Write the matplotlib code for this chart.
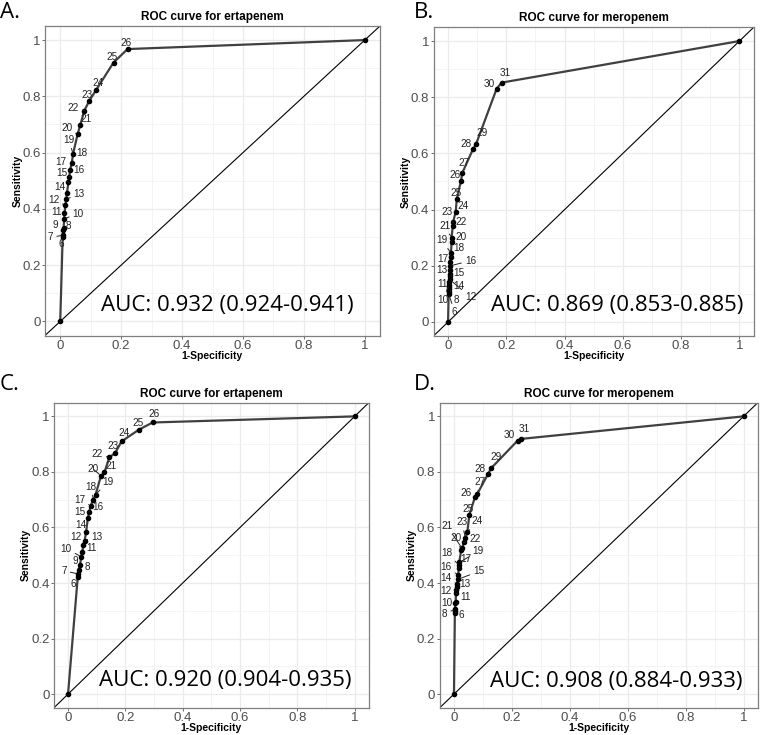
import numpy as np
import matplotlib.pyplot as plt
from matplotlib.ticker import MultipleLocator, FixedLocator

plt.rcParams.update({'font.family': ['Liberation Sans', 'DejaVu Sans'], 'font.size': 9})

# ---- data (1-specificity, sensitivity, cutoff label)
fpr_a = [0, 0.008, 0.008, 0.010, 0.011, 0.013, 0.014, 0.017, 0.020, 0.022, 0.027, 0.030,
         0.032, 0.038, 0.042, 0.057, 0.066, 0.079, 0.096, 0.118, 0.175, 0.221, 1]
tpr_a = [0, 0.299, 0.306, 0.324, 0.331, 0.365, 0.385, 0.413, 0.435, 0.456, 0.494, 0.515,
         0.537, 0.563, 0.595, 0.665, 0.699, 0.749, 0.785, 0.823, 0.920, 0.968, 1]
lab_a = ['', '6', '7', '8', '9', '10', '11', '12', '13', '14', '15', '16', '17', '18', '19',
         '20', '21', '22', '23', '24', '25', '26', '']

fpr_b = [0, 0.002, 0.002, 0.003, 0.003, 0.003, 0.004, 0.005, 0.005, 0.006, 0.007, 0.008,
         0.008, 0.009, 0.010, 0.012, 0.012, 0.016, 0.017, 0.026, 0.030, 0.044, 0.049, 0.085,
         0.096, 0.167, 0.184, 1]
tpr_b = [0, 0.100, 0.108, 0.118, 0.125, 0.132, 0.142, 0.152, 0.162, 0.172, 0.185, 0.200,
         0.215, 0.230, 0.245, 0.285, 0.300, 0.340, 0.355, 0.391, 0.437, 0.501, 0.531, 0.614,
         0.633, 0.831, 0.852, 1]
lab_b = ['', '6', '', '8', '', '10', '11', '12', '13', '14', '15', '16', '17', '18', '19',
         '20', '21', '22', '23', '24', '25', '26', '27', '28', '29', '30', '31', '']

fpr_c = [0, 0.034, 0.035, 0.037, 0.042, 0.046, 0.050, 0.053, 0.058, 0.063, 0.069, 0.074,
         0.079, 0.088, 0.096, 0.115, 0.127, 0.144, 0.164, 0.187, 0.247, 0.295, 1]
tpr_c = [0, 0.423, 0.433, 0.447, 0.465, 0.495, 0.510, 0.537, 0.553, 0.583, 0.633, 0.657,
         0.679, 0.700, 0.718, 0.786, 0.798, 0.852, 0.868, 0.910, 0.952, 0.978, 1]
lab_c = lab_a

fpr_d = [0, 0.003, 0.003, 0.003, 0.005, 0.006, 0.007, 0.008, 0.009, 0.011, 0.013, 0.015,
         0.016, 0.017, 0.018, 0.025, 0.028, 0.034, 0.039, 0.046, 0.053, 0.072, 0.080, 0.118,
         0.128, 0.220, 0.233, 1]
tpr_d = [0, 0.291, 0.299, 0.306, 0.327, 0.333, 0.363, 0.375, 0.387, 0.397, 0.413, 0.429,
         0.453, 0.465, 0.474, 0.519, 0.525, 0.546, 0.561, 0.582, 0.645, 0.708, 0.720, 0.793,
         0.813, 0.913, 0.919, 1]
lab_d = lab_b

titles = ['ROC curve for ertapenem', 'ROC curve for meropenem',
          'ROC curve for ertapenem', 'ROC curve for meropenem']
aucs = ['AUC: 0.932 (0.924-0.941)', 'AUC: 0.869 (0.853-0.885)',
        'AUC: 0.920 (0.904-0.935)', 'AUC: 0.908 (0.884-0.933)']
letters = ['A.', 'B.', 'C.', 'D.']

# ---- layout (pixels): label nudges (like ggrepel), axes boxes, etc.
off_a = [(-1, -7), (-12, -2), (5, 4), (-8, 3), (14, 5), (-8, 1), (-12, 5), (13, 5), (-7, 6),
         (-7, 9), (10, 7), (-9, 8), (10, 10), (-4, 14), (-11, 6), (6, 6), (-11, 3), (-2, 6),
         (2, 7), (-1, 6), (-1, 6)]
off_b = [(6, -18), (7, -11), (-6, -15), (-7, -2), (21, -18), (-8, 6), (9, -12), (9, -3),
         (20, 5), (-8, 3), (8, 9), (-9, 13), (9, 5), (-7, 12), (8, 4), (-6, 10), (7, 6),
         (-1, 6), (-6, 6), (2, 10), (-7, 5), (6, 11), (-7, 5), (4, 10)]
off_c = [(-4, -7), (-14, 3), (9, 3), (-5, 4), (-15, 8), (9, 4), (-7, 8), (12, 4), (-5, 7),
         (-8, 6), (9, 5), (-11, 6), (-2, 13), (12, 13), (-8, 7), (7, 6), (-12, 3), (-2, 7),
         (2, 8), (-1, 7), (1, 8)]
off_d = [(6, -2), (-10, -5), (-9, -1), (10, -4), (-10, -1), (8, 3), (-11, 6), (21, 8),
         (-12, 8), (7, 9), (-12, 12), (19, 11), (-5, 12), (-15, 22), (11, 3), (-3, 16),
         (10, 11), (-1, 6), (-9, 4), (3, 12), (-8, 5), (5, 11), (-8, 6), (3, 10)]

W, H = 760, 735
boxes = [(45, 26, 380, 335.5), (433.5, 27, 754, 336),
         (53.7, 402.5, 369, 708), (439.5, 402.5, 758, 708)]
auc_xy = [(0.962, 0.057), (1.015, 0.060), (0.990, 0.050), (0.997, 0.044)]
letter_xy = [(0, 12), (414, 13), (0, 385), (414, 385)]

panels = [(fpr_a, tpr_a, lab_a, off_a), (fpr_b, tpr_b, lab_b, off_b),
          (fpr_c, tpr_c, lab_c, off_c), (fpr_d, tpr_d, lab_d, off_d)]

fig = plt.figure(figsize=(W / 100, H / 100), dpi=100)

for k, (fpr, tpr, lab, off) in enumerate(panels):
    l, t, r, b = boxes[k]
    ax = fig.add_axes([l / W, 1 - b / H, (r - l) / W, (b - t) / H])
    ax.set_xlim(-0.05, 1.05)
    ax.set_ylim(-0.05, 1.05)

    ax.xaxis.set_major_locator(FixedLocator([0, 0.2, 0.4, 0.6, 0.8, 1]))
    ax.yaxis.set_major_locator(FixedLocator([0, 0.2, 0.4, 0.6, 0.8, 1]))
    ax.set_xticklabels(['0', '0.2', '0.4', '0.6', '0.8', '1'])
    ax.set_yticklabels(['0', '0.2', '0.4', '0.6', '0.8', '1'])
    ax.xaxis.set_minor_locator(MultipleLocator(0.1))
    ax.yaxis.set_minor_locator(MultipleLocator(0.1))
    ax.grid(which='major', color='#EBEBEB', lw=0.9)
    ax.grid(which='minor', color='#F2F2F2', lw=0.6)
    ax.set_axisbelow(True)
    ax.tick_params(which='major', length=2, width=0.6, color='#555555', pad=1,
                   labelsize=9.5, labelcolor='#4D4D4D')
    ax.tick_params(which='minor', length=0)
    for s in ax.spines.values():
        s.set_color('#7F7F7F')
        s.set_linewidth(0.9)

    ax.axline((0, 0), slope=1, color='black', lw=0.8, zorder=2)
    ax.plot(fpr, tpr, color='#404040', lw=1.6, zorder=3)
    ax.plot(fpr, tpr, 'o', color='black', ms=3, zorder=4)

    j = 0
    for x, y, s in zip(fpr, tpr, lab):
        if s == '':
            continue
        dx, dy = off[j]
        j += 1
        long_leg = np.hypot(dx, dy) > 10
        ax.annotate(s, (x, y), xytext=(dx, dy), textcoords='offset pixels',
                    ha='center', va='center', fontsize=7.2, color='#222222', zorder=5,
                    arrowprops=dict(arrowstyle='-', color='#222222', lw=0.7,
                                    shrinkA=0.5, shrinkB=1.5) if long_leg else None)

    ax.set_title(titles[k], fontsize=8.5, fontweight='bold', pad=4)
    ax.set_xlabel('1-Specificity', fontsize=7.5, fontweight='bold', labelpad=-0.5)
    ax.set_ylabel('Sensitivity', fontsize=7.5, fontweight='bold', labelpad=0)
    ax.text(auc_xy[k][0], auc_xy[k][1], aucs[k], ha='right', va='center',
            fontsize=16, family=['Open Sans', 'DejaVu Sans'], zorder=6)

    lx, ly = letter_xy[k]
    fig.text(lx / W, 1 - ly / H, letters[k], ha='left', va='center',
             fontsize=16, family=['Open Sans', 'DejaVu Sans'])

fig.savefig('out.png', dpi=100)
